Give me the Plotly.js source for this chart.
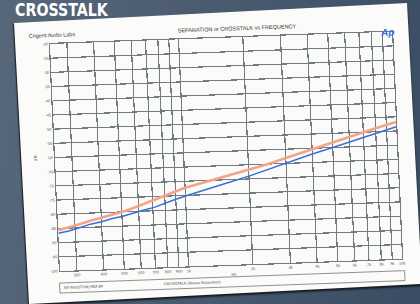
<!DOCTYPE html>
<html>
<head>
<meta charset="utf-8">
<script src="https://cdn.plot.ly/plotly-3.0.1.min.js"></script>
<style>
  html, body { margin:0; padding:0; width:420px; height:304px; overflow:hidden; }
  body { background: linear-gradient(100deg, #58687b 0%, #4d5e72 35%, #43556a 70%, #3a4c61 100%); position:relative; }
  #head { position:absolute; left:15px; top:0px; font-family:"DejaVu Sans Condensed","DejaVu Sans",sans-serif; font-weight:bold; font-size:17px; line-height:normal; color:#ffffff; transform:scaleX(0.93); transform-origin:0 0; white-space:nowrap; }
  #paper { position:absolute; left:0; top:0; width:394px; height:282px; background:#fbfbf9; transform-origin:0 0; transform:matrix(0.9975,-0.0508,0.0532,0.9965,14,23); box-shadow:-1px 1px 1px #1a1f26, 0 2px 2px rgba(10,15,20,0.8); }
  #plot { position:absolute; left:0; top:0; width:394px; height:282px; transform-origin:0 0; transform:matrix(1,-0.036,0.044,1,13.1,24.3); }
</style>
</head>
<body>
<div id="head">CROSSTALK</div>
<div id="paper"></div>
<div id="plot"></div>
<script>
// ---- data ----
const freqHz = [250, 280, 315, 355, 400, 450, 500, 560, 630, 710, 800, 900, 1000, 1250, 1600, 2000, 2500, 3150, 4000, 5000, 6300, 8000, 10000];
const crosstalkOrange = [-85.6, -84.8, -83.8, -82.7, -81.8, -80.8, -80.0, -78.9, -77.6, -76.1, -74.7, -73.4, -72.3, -70.5, -68.5, -66.7, -64.9, -62.6, -60.3, -58.1, -56.0, -53.8, -51.8];
const crosstalkBlue = [-86.7, -86.0, -85.0, -83.9, -83.2, -82.2, -81.6, -80.6, -79.7, -78.8, -77.4, -76.2, -75.2, -73.1, -71.0, -69.0, -66.7, -64.3, -62.0, -60.0, -57.9, -55.7, -53.5];
const freqTickVals = [300, 400, 500, 600, 700, 800, 900, 1000, 2000, 3000, 4000, 5000, 6000, 7000, 8000, 9000, 10000];
const freqTickText = ["300", "400", "500", "600", "700", "800", "900", "1k", "2k", "3k", "4k", "5k", "6k", "7k", "8k", "9k", "10k"];
const dbTickVals = [-100, -95, -90, -85, -80, -75, -70, -65, -60, -55, -50, -45, -40, -35, -30, -25, -20];
const dbTickText = ["-100", "-95", "-90", "-85", "-80", "-75", "-70", "-65", "-60", "-55", "-50", "-45", "-40", "-35", "-30", "-25", "-20"];
const chartTitle = "SEPARATION or CROSSTALK vs FREQUENCY";
const labName = "Cogent Audio Labs";
const footLeft = "SX-9000(TOM) REF.84";
const footMid = "CROSSTALK (Stereo Separation)";

const gridCol = "#737c83";
const traces = [
  { x: freqHz, y: crosstalkOrange, type: "scatter", mode: "lines", line: { color: "#f4a588", width: 2.6 }, hoverinfo: "skip" },
  { x: freqHz, y: crosstalkBlue, type: "scatter", mode: "lines", line: { color: "#3b6fd6", width: 1.5 }, hoverinfo: "skip" }
];
const fontFam = "Liberation Sans, Arial, sans-serif";
const layout = {
  width: 394, height: 282,
  margin: { l: 36, r: 16, t: 21, b: 34, pad: 0 },
  paper_bgcolor: "rgba(0,0,0,0)", plot_bgcolor: "rgba(0,0,0,0)",
  showlegend: false,
  font: { family: fontFam, color: "#444", size: 4 },
  xaxis: {
    type: "log", range: [Math.log10(250), 4],
    tickvals: freqTickVals, ticktext: freqTickText, ticks: "",
    showgrid: true, gridcolor: gridCol, gridwidth: 1.2,
    showline: true, linecolor: gridCol, linewidth: 1.2, mirror: true,
    zeroline: false, tickfont: { size: 4, color: "#555" }, fixedrange: true
  },
  yaxis: {
    range: [-100, -20], tickvals: dbTickVals, ticktext: dbTickText, ticks: "",
    showgrid: true, gridcolor: gridCol, gridwidth: 1.2,
    showline: true, linecolor: gridCol, linewidth: 1.2, mirror: true,
    zeroline: false, tickfont: { size: 4, color: "#555" }, fixedrange: true
  },
  shapes: [
    { type: "rect", xref: "paper", yref: "paper", x0: -0.003, x1: 1.006, y0: -0.097, y1: -0.053, line: { color: "#777", width: 0.8 } }
  ],
  annotations: [
    { text: labName, xref: "paper", yref: "paper", x: -0.067, y: 1.04, xanchor: "left", yanchor: "middle", showarrow: false, font: { size: 5.5, color: "#333" } },
    { text: chartTitle, xref: "paper", yref: "paper", x: 0.547, y: 1.04, xanchor: "center", yanchor: "middle", showarrow: false, font: { size: 5.5, color: "#333" } },
    { text: "<b><i>Ap</i></b>", xref: "paper", yref: "paper", x: 0.985, y: 1.0, xanchor: "center", yanchor: "middle", showarrow: false, font: { size: 10, color: "#3b6fd6", family: "Liberation Sans, Arial, sans-serif" } },
    { text: "d B", xref: "paper", yref: "paper", x: -0.058, y: 0.5, xanchor: "center", yanchor: "middle", textangle: -90, showarrow: false, font: { size: 4, color: "#444" } },
    { text: "Hz", xref: "paper", yref: "paper", x: 0.506, y: -0.044, xanchor: "center", yanchor: "middle", showarrow: false, font: { size: 4, color: "#444" } },
    { text: footLeft, xref: "paper", yref: "paper", x: 0.003, y: -0.075, xanchor: "left", yanchor: "middle", showarrow: false, font: { size: 3.8, color: "#444" } },
    { text: footMid, xref: "paper", yref: "paper", x: 0.295, y: -0.075, xanchor: "left", yanchor: "middle", showarrow: false, font: { size: 3.8, color: "#444" } }
  ]
};
Plotly.newPlot("plot", traces, layout, { staticPlot: true, displayModeBar: false });
</script>
</body>
</html>
